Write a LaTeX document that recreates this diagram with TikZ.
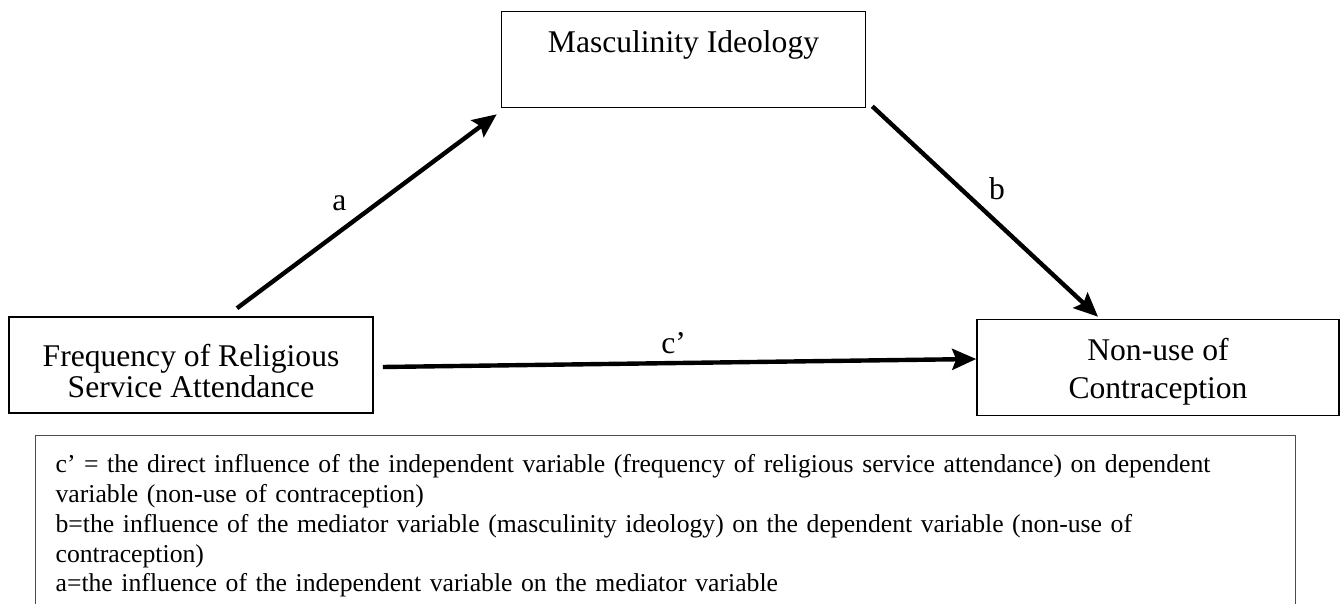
\documentclass[tikz,border=0pt]{standalone}
\usepackage{fontspec}
\setmainfont{Liberation Serif}
\usetikzlibrary{arrows.meta, positioning}
\tikzset{
  varbox/.style={rectangle, minimum width=182pt, minimum height=48pt, align=center, draw=black, line width=0.8pt, font=\fontsize{15.8}{15.5}\selectfont},
  legendbox/.style={rectangle, anchor=north west, text width=610pt, inner xsep=10pt, inner ysep=9.5pt, align=left, draw=black!70, line width=0.6pt, font=\fontsize{12.85}{14.9}\selectfont},
  pathlabel/.style={font=\fontsize{15.8}{18}\selectfont},
  arrow/.style={line width=2.2pt, -{Stealth[length=12pt, width=10.5pt, inset=2pt]}}
}

\begin{document}
\begin{tikzpicture}[x=0.5pt, y=-0.5pt]
  \useasboundingbox (0,0) rectangle (1340,604);

  \node (ideology) [varbox, text height=20.5pt, text depth=27pt, inner sep=0pt] at (683.5,59.5) {Masculinity Ideology};
  \node (attend) [varbox] at (191,365) {\rule{0pt}{16.8pt}Frequency of Religious\\Service Attendance};
  \node (nonuse) [varbox, minimum width=181pt, font=\fontsize{15.8}{19}\selectfont] at (1158,367.5) {\rule{0pt}{15.3pt}Non-use of\\Contraception};
  \node (legend) [legendbox] at (35,435) {c’ = the direct influence of the independent variable (frequency of religious service attendance) on dependent\\
    variable (non-use of contraception)\\
    b=the influence of the mediator variable (masculinity ideology) on the dependent variable (non-use of\\
    contraception)\\
    a=the influence of the independent variable on the mediator variable};

  \draw [arrow] ([shift={(46,-8)}]attend.north) -- node[pathlabel, pos=0.54, left=11pt] {a} ([shift={(-4,6)}]ideology.south west);
  \draw [arrow] ([shift={(6,-2)}]ideology.south east) -- node[pathlabel, pos=0.39, right=10pt] {b} ([shift={(-60,-2)}]nonuse.north);
  \draw [arrow] ([shift={(9,2)}]attend.east) -- node[pathlabel, pos=0.49, above] {c’} ([shift={(0,-8.5)}]nonuse.west);

\end{tikzpicture}
\end{document}
